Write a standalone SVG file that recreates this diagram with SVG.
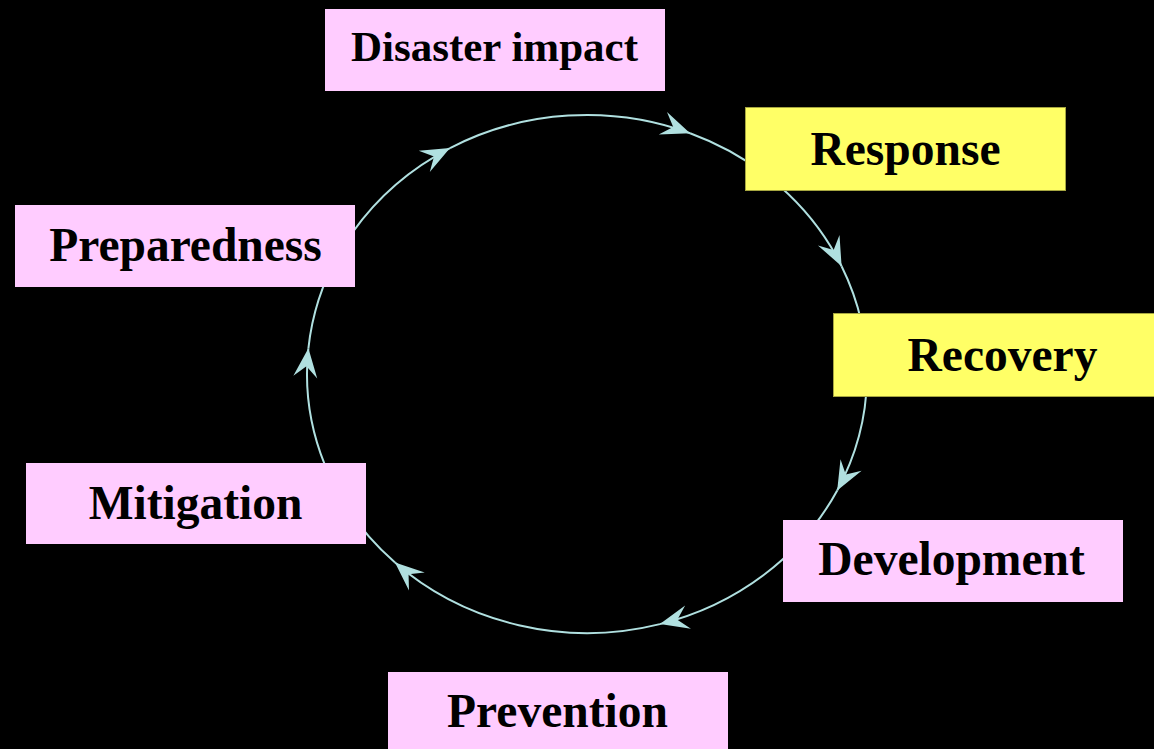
<svg xmlns="http://www.w3.org/2000/svg" width="1154" height="749" viewBox="0 0 1154 749">
<style>
.pink{fill:#ffccff}
.yellow{fill:#ffff66;stroke:#a6a640;stroke-width:1}
.lbl{font-family:"Liberation Serif","Times New Roman",serif;font-weight:bold;font-size:47.5px;fill:#000;text-anchor:middle}
.arc{fill:none;stroke:#b0e0e0;stroke-width:2;marker-end:url(#arr)}
</style>
<defs>
<marker id="arr" markerUnits="userSpaceOnUse" viewBox="-32 -15 34 30" refX="0" refY="0" markerWidth="34" markerHeight="30" orient="auto">
<path d="M0,0 L-29,-12 L-18,0 L-29,12 Z" fill="#b0e0e0"/>
</marker>
</defs>
<rect x="0" y="0" width="1154" height="749" fill="#000"/>
<g id="connectors">
<path class="arc" d="M308.4,348.3 A280,259 0 0 1 450,148.1"/>
<path class="arc" d="M450,148.1 A280,259 0 0 1 690.1,133.2"/>
<path class="arc" d="M690.1,133.2 A280,259 0 0 1 841.6,266.2"/>
<path class="arc" d="M841.6,266.2 A280,259 0 0 1 837.2,490.4"/>
<path class="arc" d="M837.2,490.4 A280,259 0 0 1 659.9,624.1"/>
<path class="arc" d="M659.9,624.1 A280,259 0 0 1 395,562.5"/>
<path class="arc" d="M395,562.5 A280,259 0 0 1 308.4,348.3"/>
</g>
<g id="disaster-impact">
<rect class="pink" x="325" y="9" width="340" height="82"/>
<text class="lbl" x="494.5" y="61" style="font-size:43px">Disaster impact</text>
</g>
<g id="response">
<rect class="yellow" x="745.5" y="107.5" width="320" height="83"/>
<text class="lbl" x="905.5" y="165">Response</text>
</g>
<g id="recovery">
<rect class="yellow" x="833.5" y="313.5" width="340" height="83"/>
<text class="lbl" x="1002.5" y="371">Recovery</text>
</g>
<g id="development">
<rect class="pink" x="783" y="520" width="340" height="82"/>
<text class="lbl" x="951.5" y="575">Development</text>
</g>
<g id="prevention">
<rect class="pink" x="388" y="672" width="340" height="82"/>
<text class="lbl" x="557.5" y="727">Prevention</text>
</g>
<g id="mitigation">
<rect class="pink" x="26" y="463" width="340" height="81"/>
<text class="lbl" x="195.5" y="519">Mitigation</text>
</g>
<g id="preparedness">
<rect class="pink" x="15" y="205" width="340" height="82"/>
<text class="lbl" x="185.5" y="261">Preparedness</text>
</g>
</svg>
